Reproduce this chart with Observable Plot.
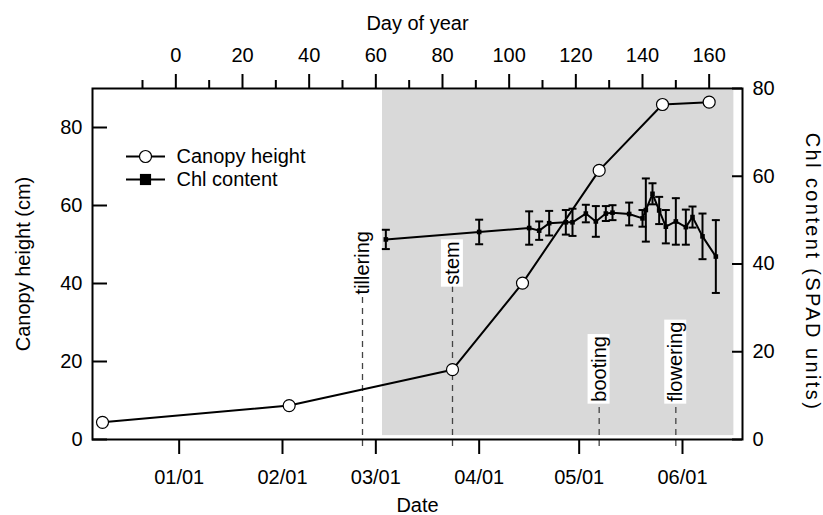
<!DOCTYPE html>
<html>
<head>
<meta charset="utf-8">
<script src="https://cdn.jsdelivr.net/npm/d3@7"></script>
<script src="https://cdn.jsdelivr.net/npm/@observablehq/plot@0.6"></script>
<style>
  html, body { margin: 0; padding: 0; background: #ffffff; }
  #chart svg { display: block; }
</style>
</head>
<body>
<div id="chart"></div>
<script>
// ---------------- data ----------------
const canopyDates  = ["2010-12-09", "2011-02-03", "2011-03-24", "2011-04-14", "2011-05-07", "2011-05-26", "2011-06-09"];
const canopyHeight = [4.4, 8.7, 17.9, 40.1, 69.0, 85.9, 86.5];

const chlDates  = ["2011-03-04", "2011-04-01", "2011-04-16", "2011-04-19", "2011-04-22", "2011-04-27", "2011-04-29",
                   "2011-05-03", "2011-05-06", "2011-05-09", "2011-05-11", "2011-05-16", "2011-05-20", "2011-05-21",
                   "2011-05-23", "2011-05-25", "2011-05-27", "2011-05-30", "2011-06-02", "2011-06-04", "2011-06-07",
                   "2011-06-11"];
const chlValues = [45.6, 47.3, 48.2, 47.6, 49.3, 49.5, 49.5,
                   51.5, 49.7, 51.5, 51.7, 51.4, 50.4, 52.3,
                   56.0, 52.2, 48.5, 49.7, 48.4, 50.7, 46.3,
                   41.7];
const chlErrors = [2.2, 2.8, 3.8, 2.1, 2.8, 2.8, 3.1,
                   2.0, 3.5, 1.7, 1.7, 2.6, 1.9, 7.2,
                   2.4, 3.1, 3.8, 5.3, 4.0, 2.4, 5.2,
                   8.3];

const phaseNames  = ["tillering", "stem", "booting", "flowering"];
const phaseDates  = ["2011-02-25", "2011-03-24", "2011-05-07", "2011-05-30"];
const phaseLabelY = [37.2, 39.7, 9.7, 9.7];   // canopy-height units, where the label starts

const shadeX = ["2011-03-03", "2011-06-16T10:00Z"];
const shadeY = [1.0, 89.5];

const xDomain     = ["2010-12-06", "2011-06-19"];
const leftDomain  = [0, 90];
const rightDomain = [0, 80];
const leftTicks   = [0, 20, 40, 60, 80];
const rightTicks  = [0, 20, 40, 60, 80];
const monthTicks  = ["2011-01-01", "2011-02-01", "2011-03-01", "2011-04-01", "2011-05-01", "2011-06-01"];
const doyMajor    = [0, 20, 40, 60, 80, 100, 120, 140, 160];
const doyMinor    = [-10, 10, 30, 50, 70, 90, 110, 130, 150];
const doyYear     = 2011;

const titleTop    = "Day of year";
const titleBottom = "Date";
const titleLeft   = "Canopy height (cm)";
const titleRight  = "Chl content (SPAD units)";
const legendLabels = ["Canopy height", "Chl content"];

// ---------------- derived ----------------
const W = 823, H = 515;
const mL = 92, mR = 81, mT = 88, mB = 76;
const frameW = W - mL - mR;
const k = leftDomain[1] / rightDomain[1];   // right-axis units -> left-axis units
const doyDate = d => new Date(Date.UTC(doyYear, 0, d));
const dateDoy = d => Math.round((+d - Date.UTC(doyYear, 0, 0)) / 864e5);

const canopy = canopyDates.map((d, i) => ({date: new Date(d), h: canopyHeight[i]}));
const chl = chlDates.map((d, i) => ({
  date: new Date(d),
  v: chlValues[i] * k,
  lo: (chlValues[i] - chlErrors[i]) * k,
  hi: (chlValues[i] + chlErrors[i]) * k
}));
const phases = phaseNames.map((n, i) => ({name: n, date: new Date(phaseDates[i]), ly: phaseLabelY[i]}));
const shade = [{x1: new Date(shadeX[0]), x2: new Date(shadeX[1]), y1: shadeY[0], y2: shadeY[1]}];

const hline = {draw(ctx, size) { const r = Math.sqrt(size / Math.PI); ctx.moveTo(-r, 0); ctx.lineTo(r, 0); }};

const chart = Plot.plot({
  width: W, height: H,
  marginLeft: mL, marginRight: mR, marginTop: mT, marginBottom: mB,
  style: {fontFamily: "'Liberation Sans', Arial, Helvetica, sans-serif", fontSize: "20px", background: "#ffffff", color: "#000000", overflow: "visible"},
  x: {type: "utc", domain: xDomain.map(d => new Date(d))},
  y: {domain: leftDomain},
  marks: [
    // shaded period
    Plot.rect(shade, {x1: "x1", x2: "x2", y1: "y1", y2: "y2", fill: "#d9d9d9"}),
    // phenology markers
    Plot.ruleX(phases, {x: "date", y1: -1.8, y2: "ly", stroke: "#444444", strokeWidth: 1.3, strokeDasharray: "6,5"}),
    Plot.text(phases, {x: "date", y: "ly", text: "name", rotate: -90, textAnchor: "start", lineAnchor: "middle", fill: "#000000"}),
    // canopy height
    Plot.line(canopy, {x: "date", y: "h", stroke: "#000000", strokeWidth: 2}),
    Plot.dot(canopy, {x: "date", y: "h", r: 6, fill: "#ffffff", stroke: "#000000", strokeWidth: 1.2}),
    // chl content with error bars
    Plot.ruleX(chl, {x: "date", y1: "lo", y2: "hi", stroke: "#000000", strokeWidth: 2}),
    Plot.dot(chl, {x: "date", y: "lo", symbol: hline, r: 4, fill: "none", stroke: "#000000", strokeWidth: 2}),
    Plot.dot(chl, {x: "date", y: "hi", symbol: hline, r: 4, fill: "none", stroke: "#000000", strokeWidth: 2}),
    Plot.line(chl, {x: "date", y: "v", stroke: "#000000", strokeWidth: 2}),
    Plot.dot(chl, {x: "date", y: "v", symbol: "square", r: 2.6, fill: "#000000", stroke: "none"}),
    // frame
    Plot.frame({stroke: "#000000", strokeWidth: 2}),
    // bottom axis (dates)
    Plot.axisX(monthTicks.map(d => new Date(d)), {anchor: "bottom", tickFormat: d3.utcFormat("%m/%d"), tickSize: 15, tickPadding: 15, strokeWidth: 2, label: null}),
    // top axis (day of year)
    Plot.axisX(doyMajor.map(doyDate), {anchor: "top", tickFormat: d => String(dateDoy(d)), tickSize: 15, tickPadding: 12, strokeWidth: 2, label: null}),
    Plot.axisX(doyMinor.map(doyDate), {anchor: "top", tickFormat: () => "", tickSize: 9, strokeWidth: 2, label: null}),
    // left axis
    Plot.axisY(leftTicks, {anchor: "left", tickSize: 0, tickPadding: 10, label: null}),
    Plot.tickY(leftTicks, {y: d => d, insetRight: frameW - 15, stroke: "#000000", strokeWidth: 2}),
    // right axis
    Plot.axisY(rightTicks.map(v => v * k), {anchor: "right", tickSize: 0, tickPadding: 10, tickFormat: v => String(Math.round(v / k)), label: null}),
    Plot.tickY(rightTicks, {y: d => d * k, insetLeft: frameW - 10, stroke: "#000000", strokeWidth: 2}),
    // axis titles
    Plot.text([titleTop], {frameAnchor: "top", dy: -65, textAnchor: "middle", lineAnchor: "middle", text: d => d, fill: "#000000"}),
    Plot.text([titleBottom], {frameAnchor: "bottom", dy: 66, textAnchor: "middle", lineAnchor: "middle", text: d => d, fill: "#000000"}),
    Plot.text([titleLeft], {frameAnchor: "left", dx: -69, rotate: -90, textAnchor: "middle", lineAnchor: "middle", text: d => d, fill: "#000000"}),
    Plot.text([titleRight], {frameAnchor: "right", dx: 70, dy: 8, rotate: 90, textAnchor: "middle", lineAnchor: "middle", text: d => d, fill: "#000000"}),
    // legend
    Plot.dot([legendLabels[0]], {frameAnchor: "top-left", dx: 53, dy: 68, symbol: hline, r: 19.5, fill: "none", stroke: "#000000", strokeWidth: 2}),
    Plot.dot([legendLabels[0]], {frameAnchor: "top-left", dx: 53, dy: 68, r: 6, fill: "#ffffff", stroke: "#000000", strokeWidth: 1.2}),
    Plot.text([legendLabels[0]], {frameAnchor: "top-left", dx: 84, dy: 68, textAnchor: "start", lineAnchor: "middle", text: d => d, fill: "#000000"}),
    Plot.dot([legendLabels[1]], {frameAnchor: "top-left", dx: 53, dy: 91, symbol: hline, r: 19.5, fill: "none", stroke: "#000000", strokeWidth: 2}),
    Plot.dot([legendLabels[1]], {frameAnchor: "top-left", dx: 53, dy: 91, symbol: "square", r: 6.3, fill: "#000000", stroke: "none"}),
    Plot.text([legendLabels[1]], {frameAnchor: "top-left", dx: 84, dy: 91, textAnchor: "start", lineAnchor: "middle", text: d => d, fill: "#000000"})
  ]
});

document.getElementById("chart").appendChild(chart);

// wider letter spacing on the right-hand title, as in the reference
chart.querySelectorAll("text").forEach(t => {
  if (t.textContent === titleRight) t.setAttribute("letter-spacing", "2.4");
});

// white boxes behind the phenology labels
const NS = "http://www.w3.org/2000/svg";
chart.querySelectorAll("text").forEach(t => {
  if (!phaseNames.includes(t.textContent)) return;
  const b = t.getBBox();
  const r = document.createElementNS(NS, "rect");
  r.setAttribute("x", b.x - 2);
  r.setAttribute("y", b.y);
  r.setAttribute("width", b.width + 4);
  r.setAttribute("height", b.height);
  r.setAttribute("fill", "#ffffff");
  r.setAttribute("stroke", "none");
  const tr = t.getAttribute("transform");
  if (tr) r.setAttribute("transform", tr);
  t.parentNode.insertBefore(r, t);
});
</script>
</body>
</html>
